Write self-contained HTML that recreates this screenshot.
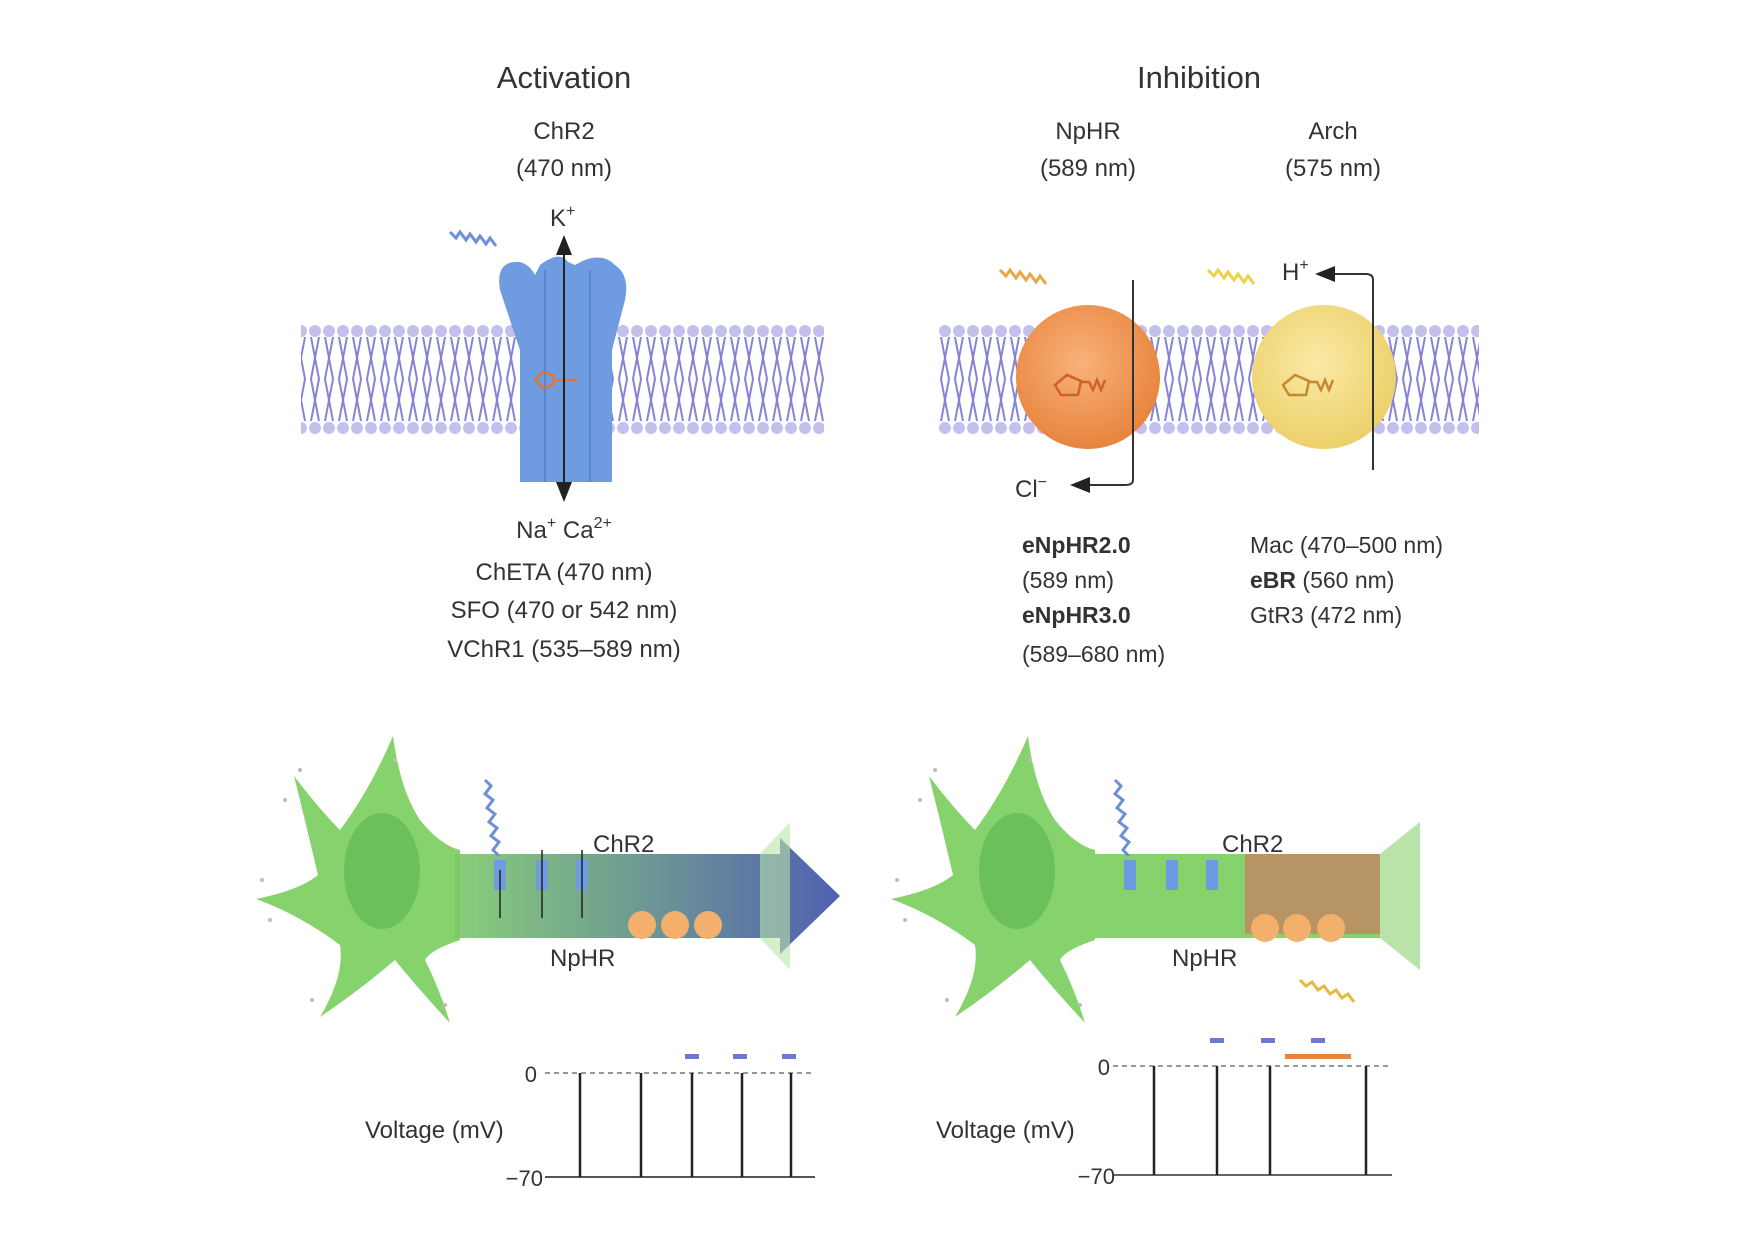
<!DOCTYPE html>
<html><head><meta charset="utf-8"><style>
html,body{margin:0;padding:0;background:#fff}
svg{display:block}
text{font-family:"Liberation Sans",sans-serif;fill:#333}
</style></head><body>
<svg width="1754" height="1240" viewBox="0 0 1754 1240" xmlns="http://www.w3.org/2000/svg">
<defs>
<pattern id="mem" x="0" y="323" width="14" height="113" patternUnits="userSpaceOnUse">
<rect width="14" height="113" fill="#fff"/>
<circle cx="7" cy="8" r="6" fill="#c3c0ee"/>
<circle cx="7" cy="105" r="6" fill="#c3c0ee"/>
<path d="M3 14 L11 56 L3 98 M11 14 L3 56 L11 98" stroke="#8583d6" stroke-width="2" fill="none"/>
</pattern>
<radialGradient id="og" cx="45%" cy="40%" r="60%"><stop offset="0" stop-color="#f8b27a"/><stop offset="1" stop-color="#e8843e"/></radialGradient>
<radialGradient id="yg" cx="45%" cy="40%" r="60%"><stop offset="0" stop-color="#fbeaa6"/><stop offset="1" stop-color="#ecd06a"/></radialGradient>
<linearGradient id="ax" x1="0" x2="1"><stop offset="0" stop-color="#7cc86a"/><stop offset="1" stop-color="#3d4fa8"/></linearGradient>
<marker id="ah" markerWidth="10" markerHeight="10" refX="5" refY="5" orient="auto"><path d="M0 1 L10 5 L0 9Z" fill="#222"/></marker>
<g id="neuron">
<path d="M340 830 Q370 790 393 736 Q400 790 420 820 Q440 845 460 850 L460 940 Q430 950 425 960 Q440 990 450 1023 Q415 985 395 960 Q360 990 320 1017 Q345 975 340 945 Q300 915 256 899 Q300 890 318 875 Q305 820 294 776 Q320 810 340 830 Z" fill="#86d26c"/>
<ellipse cx="382" cy="871" rx="38" ry="58" fill="#6cc05c"/>
<g fill="#bbb"><circle cx="300" cy="770" r="2"/><circle cx="285" cy="800" r="2"/><circle cx="262" cy="880" r="2"/><circle cx="270" cy="920" r="2"/><circle cx="312" cy="1000" r="2"/><circle cx="395" cy="760" r="2"/><circle cx="445" cy="1005" r="2"/></g>
</g>
</defs>

<!-- titles -->
<text x="564" y="88" font-size="31" text-anchor="middle">Activation</text>
<text x="1199" y="88" font-size="31" text-anchor="middle">Inhibition</text>
<g font-size="24" text-anchor="middle">
<text x="564" y="139">ChR2</text><text x="564" y="176">(470 nm)</text>
<text x="1088" y="139">NpHR</text><text x="1088" y="176">(589 nm)</text>
<text x="1333" y="139">Arch</text><text x="1333" y="176">(575 nm)</text>
</g>

<!-- membranes -->
<rect x="301" y="323" width="523" height="113" fill="url(#mem)"/>
<rect x="938" y="323" width="541" height="113" fill="url(#mem)"/>

<!-- ChR2 channel -->
<path d="M500 290 Q495 260 520 262 Q530 265 535 275 L540 265 Q560 250 568 262 L575 265 Q600 250 615 265 Q630 275 625 300 L612 350 L612 482 L520 482 L520 350 Z" fill="#6f9be0"/>
<path d="M545 270 L545 482 M590 270 L590 482" stroke="#5a84cc" stroke-width="2"/>
<path d="M535 380 l8 -8 l10 3 l0 10 l-10 3 Z M553 380 h25" stroke="#d9783c" stroke-width="2.5" fill="none"/>
<line x1="564" y1="470" x2="564" y2="245" stroke="#222" stroke-width="2" marker-end="url(#ah)"/>
<line x1="564" y1="260" x2="564" y2="492" stroke="#222" stroke-width="2" marker-end="url(#ah)"/>
<text x="550" y="226" font-size="24">K<tspan dy="-10" font-size="16">+</tspan></text>
<path d="M450 232 l6 6 l4 -6 l6 8 l4 -6 l6 8 l4 -6 l6 8 l4 -6 l6 8" stroke="#6d8fd8" stroke-width="3" fill="none"/>

<g font-size="24" text-anchor="middle">
<text x="564" y="538">Na<tspan dy="-10" font-size="16">+</tspan><tspan dy="10"> Ca</tspan><tspan dy="-10" font-size="16">2+</tspan></text>
<text x="564" y="580">ChETA (470 nm)</text>
<text x="564" y="618">SFO (470 or 542 nm)</text>
<text x="564" y="657">VChR1 (535–589 nm)</text>
</g>

<!-- pumps -->
<circle cx="1088" cy="377" r="72" fill="url(#og)"/>
<circle cx="1324" cy="377" r="72" fill="url(#yg)"/>
<path d="M1055 385 l12 -10 l14 6 l-3 14 l-17 0 Z M1081 382 h8 l4 8 l4 -10 l4 10 l4 -10" stroke="#d0602c" stroke-width="2.5" fill="none"/>
<path d="M1283 385 l12 -10 l14 6 l-3 14 l-17 0 Z M1309 382 h8 l4 8 l4 -10 l4 10 l4 -10" stroke="#c48a30" stroke-width="2.5" fill="none"/>
<path d="M1133 280 L1133 480 Q1133 485 1125 485 L1080 485" stroke="#333" stroke-width="2" fill="none" marker-end="url(#ah)"/>
<path d="M1373 470 L1373 280 Q1373 274 1366 274 L1325 274" stroke="#333" stroke-width="2" fill="none" marker-end="url(#ah)"/>
<text x="1015" y="497" font-size="24">Cl<tspan dy="-10" font-size="16">−</tspan></text>
<text x="1282" y="280" font-size="24">H<tspan dy="-10" font-size="16">+</tspan></text>
<path d="M1000 270 l6 6 l4 -6 l6 8 l4 -6 l6 8 l4 -6 l6 8 l4 -6 l6 8" stroke="#e8a84a" stroke-width="3" fill="none"/>
<path d="M1208 270 l6 6 l4 -6 l6 8 l4 -6 l6 8 l4 -6 l6 8 l4 -6 l6 8" stroke="#ecd24a" stroke-width="3" fill="none"/>

<g font-size="23">
<text x="1022" y="553" font-weight="bold">eNpHR2.0</text>
<text x="1022" y="588">(589 nm)</text>
<text x="1022" y="623" font-weight="bold">eNpHR3.0</text>
<text x="1022" y="662">(589–680 nm)</text>
<text x="1250" y="553">Mac (470–500 nm)</text>
<text x="1250" y="588"><tspan font-weight="bold">eBR</tspan> (560 nm)</text>
<text x="1250" y="623">GtR3 (472 nm)</text>
</g>

<!-- left neuron -->
<g>
<use href="#neuron"/>
<path d="M455 854 L780 854 L780 838 L840 896 L780 954 L780 938 L455 938 Z" fill="url(#ax)" opacity="0.9"/>
<path d="M760 854 L790 822 L790 970 L760 938Z" fill="#b9e3a8" opacity="0.6"/>
<g fill="#6f9be0"><rect x="494" y="860" width="12" height="30"/><rect x="536" y="860" width="12" height="30"/><rect x="576" y="860" width="12" height="30"/></g>
<path d="M485 780 l6 6 l-6 8 l8 6 l-6 8 l8 6 l-6 8 l8 6 l-6 8 l8 6 l-6 8 l6 6" stroke="#6d8fd8" stroke-width="3" fill="none"/>
<g stroke="#222" stroke-width="1.5"><line x1="500" y1="870" x2="500" y2="918"/><line x1="542" y1="850" x2="542" y2="918"/><line x1="582" y1="850" x2="582" y2="918"/></g>
<g fill="#f3b06c"><circle cx="642" cy="925" r="14"/><circle cx="675" cy="925" r="14"/><circle cx="708" cy="925" r="14"/></g>
<text x="593" y="852" font-size="24">ChR2</text>
<text x="550" y="966" font-size="24">NpHR</text>
</g>

<!-- right neuron -->
<g>
<use href="#neuron" transform="translate(635,0)"/>
<rect x="1088" y="854" width="300" height="84" fill="#86d26c"/>
<path d="M1380 854 L1420 822 L1420 970 L1380 938Z" fill="#b9e3a8"/>
<rect x="1245" y="854" width="135" height="80" fill="#c08a62" opacity="0.85"/>
<g fill="#6f9be0"><rect x="1124" y="860" width="12" height="30"/><rect x="1166" y="860" width="12" height="30"/><rect x="1206" y="860" width="12" height="30"/></g>
<path d="M1115 780 l6 6 l-6 8 l8 6 l-6 8 l8 6 l-6 8 l8 6 l-6 8 l8 6 l-6 8 l6 6" stroke="#6d8fd8" stroke-width="3" fill="none"/>
<g fill="#f3b06c"><circle cx="1265" cy="928" r="14"/><circle cx="1297" cy="928" r="14"/><circle cx="1331" cy="928" r="14"/></g>
<path d="M1300 980 l6 6 l6 -4 l6 8 l6 -4 l6 8 l6 -4 l6 8 l6 -4 l6 8" stroke="#e8b840" stroke-width="3" fill="none"/>
<text x="1222" y="852" font-size="24">ChR2</text>
<text x="1172" y="966" font-size="24">NpHR</text>
</g>

<!-- left chart -->
<g>
<line x1="545" y1="1073" x2="815" y2="1073" stroke="#999" stroke-width="2" stroke-dasharray="5,4"/>
<line x1="545" y1="1177" x2="815" y2="1177" stroke="#555" stroke-width="2"/>
<g stroke="#222" stroke-width="2.5"><line x1="580" y1="1073" x2="580" y2="1177"/><line x1="641" y1="1073" x2="641" y2="1177"/><line x1="692" y1="1073" x2="692" y2="1177"/><line x1="742" y1="1073" x2="742" y2="1177"/><line x1="791" y1="1073" x2="791" y2="1177"/></g>
<g fill="#6f78d0"><rect x="685" y="1054" width="14" height="5"/><rect x="733" y="1054" width="14" height="5"/><rect x="782" y="1054" width="14" height="5"/></g>
<text x="537" y="1082" font-size="22" text-anchor="end">0</text>
<text x="543" y="1186" font-size="22" text-anchor="end">−70</text>
<text x="365" y="1138" font-size="24">Voltage (mV)</text>
</g>

<!-- right chart -->
<g>
<line x1="1113" y1="1066" x2="1392" y2="1066" stroke="#999" stroke-width="2" stroke-dasharray="5,4"/>
<line x1="1113" y1="1175" x2="1392" y2="1175" stroke="#666" stroke-width="2"/>
<g stroke="#222" stroke-width="2.5"><line x1="1154" y1="1066" x2="1154" y2="1175"/><line x1="1217" y1="1066" x2="1217" y2="1175"/><line x1="1270" y1="1066" x2="1270" y2="1175"/><line x1="1366" y1="1066" x2="1366" y2="1175"/></g>
<g fill="#6f78d0"><rect x="1210" y="1038" width="14" height="5"/><rect x="1261" y="1038" width="14" height="5"/><rect x="1311" y="1038" width="14" height="5"/></g>
<rect x="1285" y="1054" width="66" height="5" fill="#e8843e"/>
<text x="1110" y="1075" font-size="22" text-anchor="end">0</text>
<text x="1115" y="1184" font-size="22" text-anchor="end">−70</text>
<text x="936" y="1138" font-size="24">Voltage (mV)</text>
</g>
</svg>
</body></html>
